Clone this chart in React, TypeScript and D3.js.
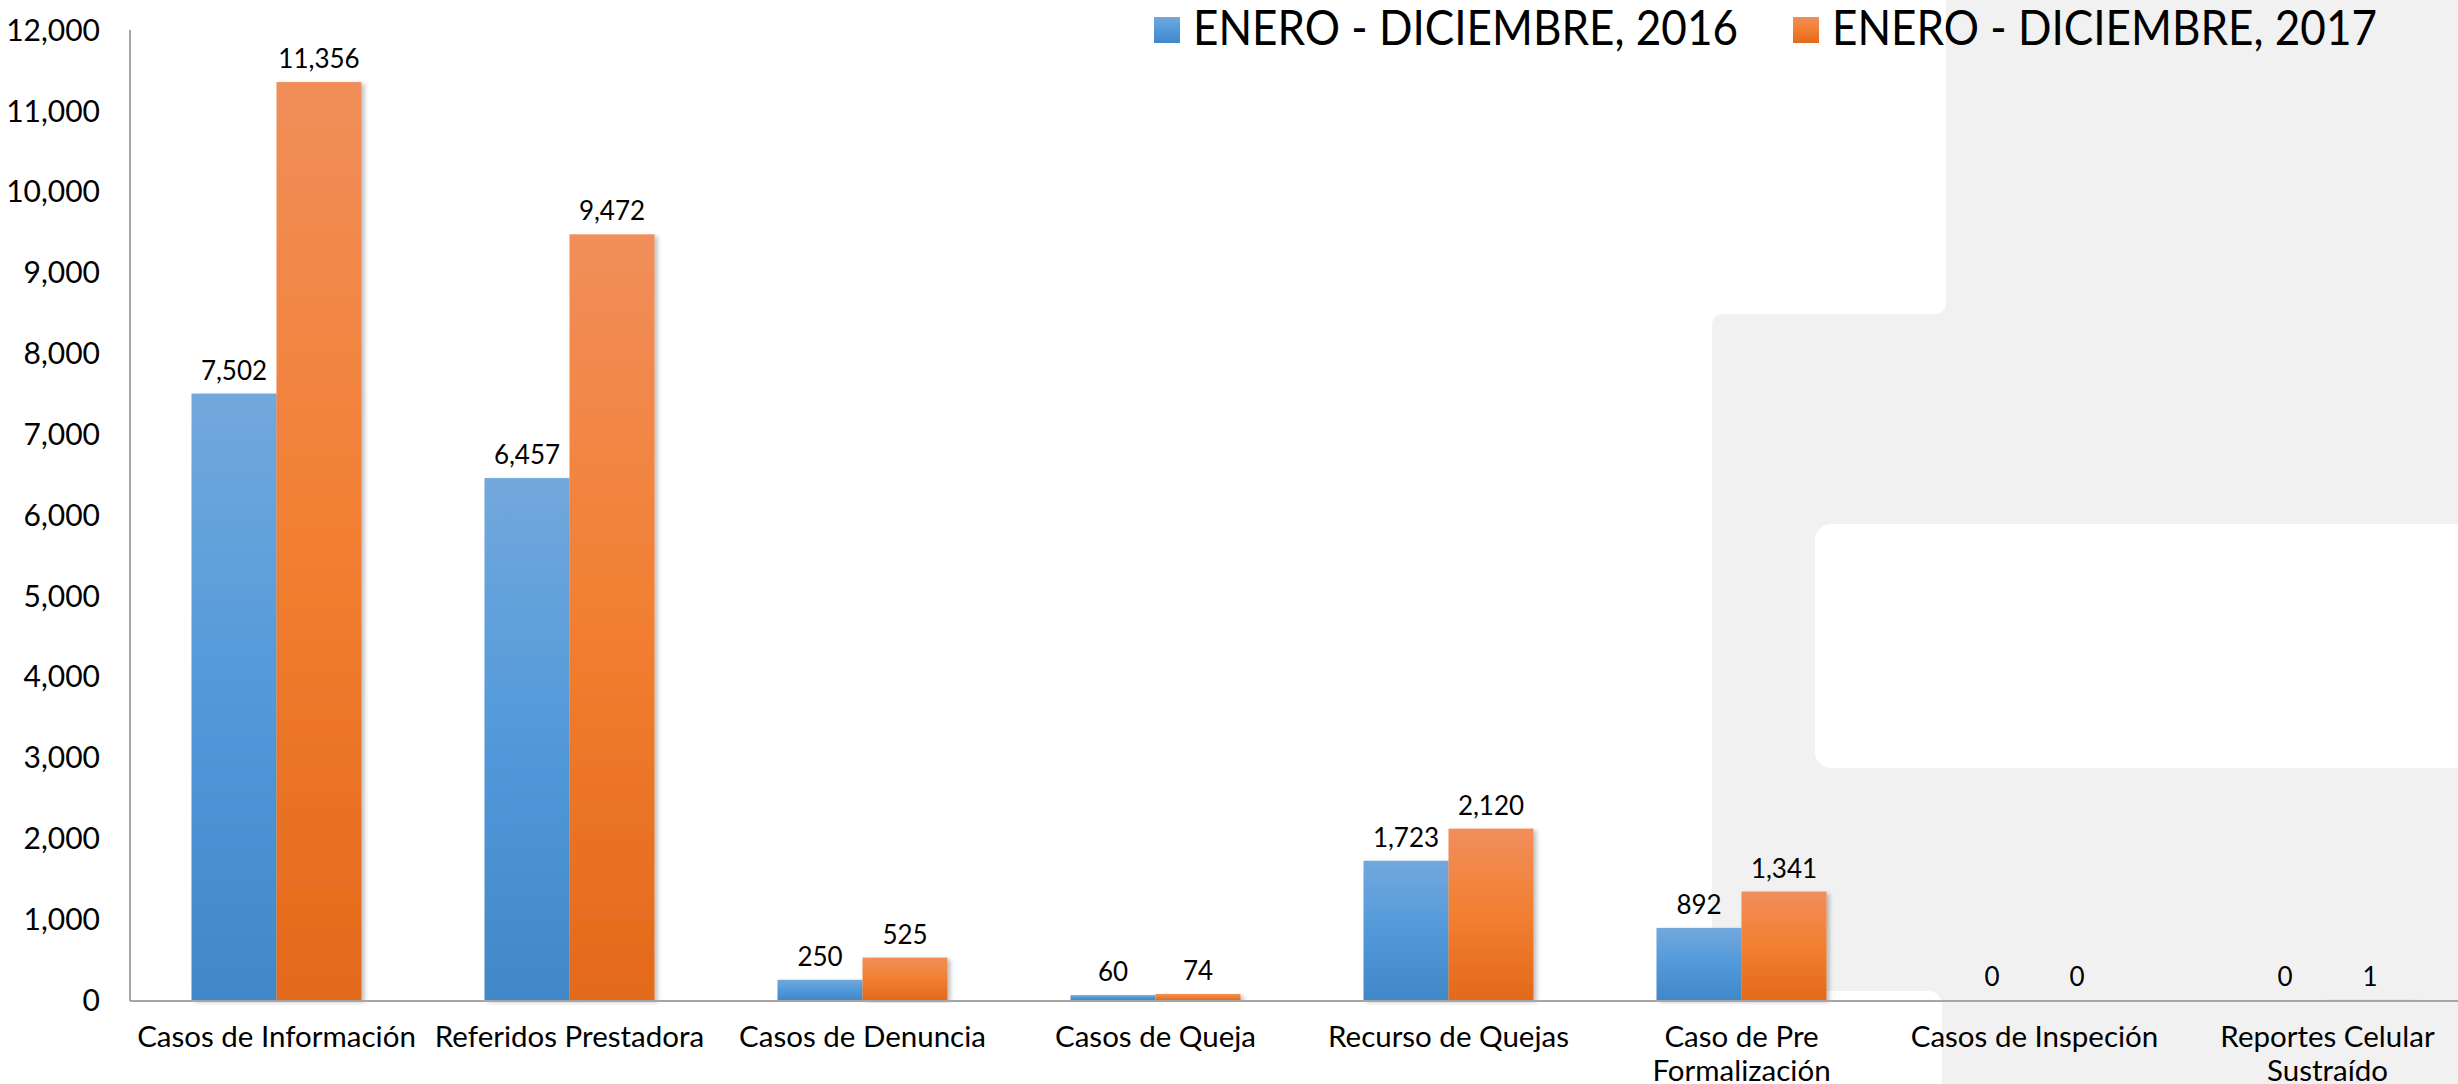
import React from "react";
import * as d3 from "d3";

const categories = [
  ["Casos de Información"],
  ["Referidos Prestadora"],
  ["Casos de Denuncia"],
  ["Casos de Queja"],
  ["Recurso de Quejas"],
  ["Caso de Pre", "Formalización"],
  ["Casos de Inspeción"],
  ["Reportes Celular", "Sustraído"],
];
const series = ["ENERO - DICIEMBRE, 2016", "ENERO - DICIEMBRE, 2017"];
const values2016 = [7502, 6457, 250, 60, 1723, 892, 0, 0];
const values2017 = [11356, 9472, 525, 74, 2120, 1341, 0, 1];
const yTicks = [0, 1000, 2000, 3000, 4000, 5000, 6000, 7000, 8000, 9000, 10000, 11000, 12000];

const W = 2458;
const H = 1084;
const FONT = "Lato, 'Open Sans', sans-serif";

const App = () => {
  const keys = categories.map((c) => c.join(" "));
  const x = d3.scaleBand().domain(keys).range([130, 2474]).padding(0);
  const x1 = d3.scaleBand().domain(series).range([-85, 85]).padding(0);
  const y = d3.scaleLinear().domain([0, 12000]).range([1000, 30]);
  const fmt = d3.format(",");
  const gradIds = ["gBlue", "gOrange"];
  const allValues = [values2016, values2017];

  return (
    <svg width={W} height={H} style={{ position: "absolute", left: 0, top: 0, background: "#fff" }}>
      <defs>
        <linearGradient id="gBlue" x1="0" y1="0" x2="0" y2="1">
          <stop offset="0" stopColor="#72a8dc" />
          <stop offset="0.5" stopColor="#5299da" />
          <stop offset="1" stopColor="#4188c8" />
        </linearGradient>
        <linearGradient id="gOrange" x1="0" y1="0" x2="0" y2="1">
          <stop offset="0" stopColor="#f18e5a" />
          <stop offset="0.5" stopColor="#f27f32" />
          <stop offset="1" stopColor="#e3691a" />
        </linearGradient>
        <filter id="shadow" x="-10%" y="-5%" width="130%" height="110%">
          <feDropShadow dx="3" dy="2" stdDeviation="2" floodColor="#000" floodOpacity="0.25" />
        </filter>
      </defs>

      {/* background slide shapes */}
      <path
        d="M1946,0 L2458,0 L2458,1084 L1712,1084 L1712,326 Q1712,314 1724,314 L1934,314 Q1946,314 1946,302 Z"
        fill="#f0f1f0"
      />
      <rect x={1815} y={524} width={700} height={244} rx={16} fill="#fff" />
      <rect x={1690} y={991} width={252} height={140} rx={14} fill="#fff" />

      {/* y axis labels */}
      {yTicks.map((t) => (
        <text
          key={t}
          x={100}
          y={y(t)}
          dy="0.36em"
          textAnchor="end"
          fontFamily={FONT}
          fontSize={30}
          fill="#000"
        >
          {fmt(t)}
        </text>
      ))}

      {/* bars */}
      {keys.map((k, i) => (
        <g key={k} transform={`translate(${x(k)! + x.bandwidth() / 2},0)`}>
          {series.map((s, j) => {
            const v = allValues[j][i];
            const bx = x1(s)!;
            const top = y(v);
            return (
              <g key={s}>
                {v > 0 && (
                  <rect
                    x={bx}
                    y={top}
                    width={x1.bandwidth()}
                    height={Math.max(1.5, y(0) - top)}
                    fill={`url(#${gradIds[j]})`}
                    filter="url(#shadow)"
                  />
                )}
                <text
                  x={bx + x1.bandwidth() / 2}
                  y={top - 14}
                  textAnchor="middle"
                  fontFamily={FONT}
                  fontSize={26}
                  fill="#000"
                >
                  {fmt(v)}
                </text>
              </g>
            );
          })}
        </g>
      ))}

      {/* axes lines */}
      <line x1={130} x2={130} y1={30} y2={1001} stroke="#a6a6a6" strokeWidth={2} />
      <line x1={130} x2={W} y1={1001} y2={1001} stroke="#a6a6a6" strokeWidth={2} />

      {/* x labels */}
      {categories.map((c, i) => (
        <text
          key={keys[i]}
          x={x(keys[i])! + x.bandwidth() / 2}
          y={1047}
          textAnchor="middle"
          fontFamily={FONT}
          fontSize={29.5}
          fill="#000"
        >
          {c.map((line, li) => (
            <tspan key={li} x={x(keys[i])! + x.bandwidth() / 2} dy={li === 0 ? 0 : 34}>
              {line}
            </tspan>
          ))}
        </text>
      ))}

      {/* legend */}
      {series.map((s, j) => {
        const lx = [1154, 1793][j];
        return (
          <g key={s}>
            <rect x={lx} y={17} width={26} height={26} fill={`url(#${gradIds[j]})`} />
            <text
              x={lx + 39}
              y={45}
              fontFamily={FONT}
              fontSize={48}
              textLength={545}
              lengthAdjust="spacingAndGlyphs"
              fill="#000"
            >
              {s}
            </text>
          </g>
        );
      })}
    </svg>
  );
};

export default App;
